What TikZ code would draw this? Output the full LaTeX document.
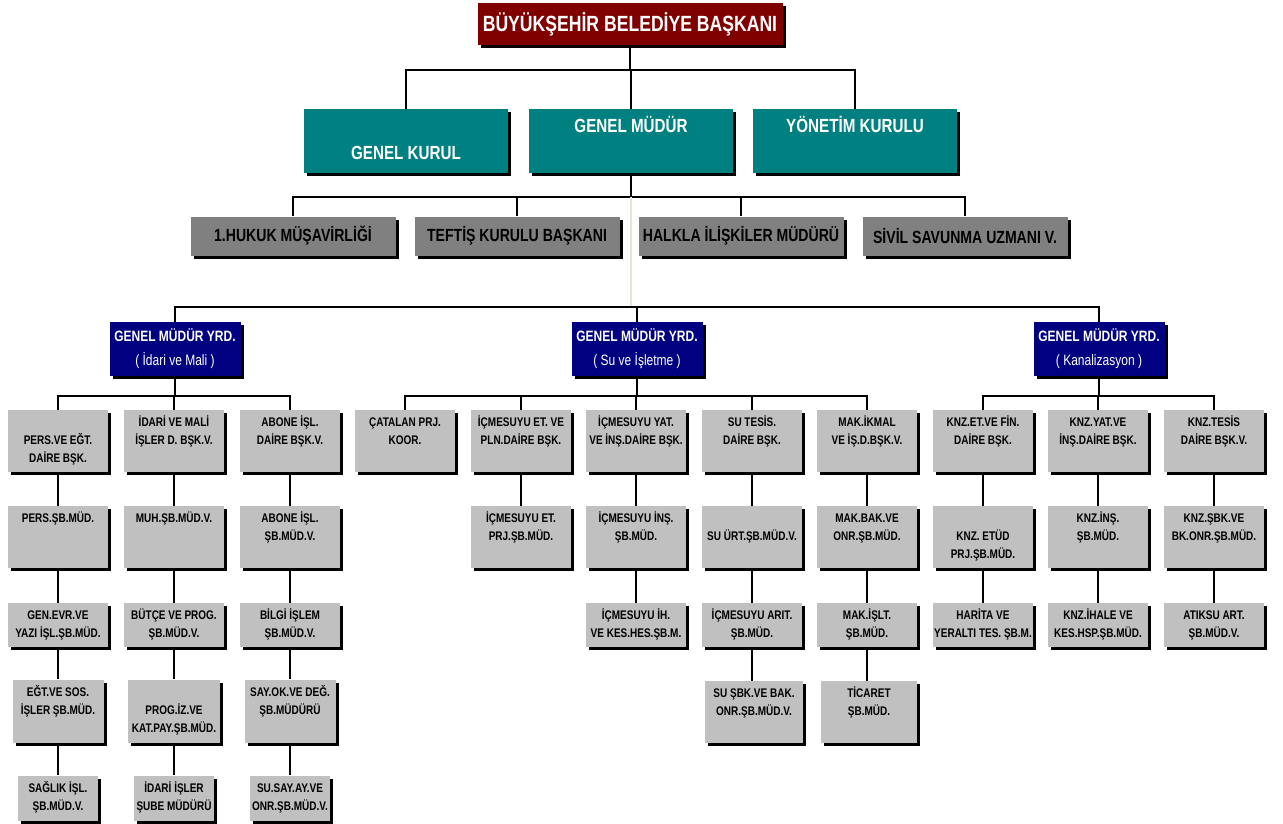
\documentclass[tikz,border=0pt]{standalone}
\usepackage{fontspec}
\setmainfont{Liberation Sans}[FakeStretch=0.8]
\usetikzlibrary{shadows,backgrounds}

\definecolor{baskan}{HTML}{800000}
\definecolor{kurul}{HTML}{008080}
\definecolor{yrd}{HTML}{000080}
\definecolor{koyugri}{HTML}{808080}
\definecolor{acikgri}{HTML}{C0C0C0}
\definecolor{ince}{HTML}{EAE4D6}

% satirlar ayni araliklarla
\newcommand{\satirlar}[1]{\begin{tabular}{@{}c@{}}#1\end{tabular}}

\tikzset{
  kutu/.style={rectangle, inner sep=0pt,
    drop shadow={shadow xshift=3pt, shadow yshift=-3pt, fill=black, opacity=1}},
  baskanbox/.style={kutu, fill=baskan, text=white, font=\fontsize{22}{26}\selectfont\bfseries,
    minimum width=305pt, minimum height=42pt},
  kurulbox/.style={kutu, fill=kurul, text=white, font=\fontsize{19}{27}\selectfont\bfseries,
    minimum width=204pt, minimum height=64pt},
  birimbox/.style={kutu, fill=koyugri, text=black, font=\fontsize{17.6}{20}\selectfont\bfseries,
    minimum width=205pt, minimum height=39pt},
  yrdbox/.style={kutu, fill=yrd, text=white, font=\fontsize{15}{24}\selectfont\bfseries,
    minimum width=131pt, minimum height=54pt},
  sube/.style={kutu, fill=acikgri, text=black, font=\fontsize{12.5}{18}\selectfont\bfseries,
    minimum width=100pt},
  hat/.style={draw=black, line width=2.2pt},
}

\begin{document}
\begin{tikzpicture}[x=1pt, y=-1pt]
    \useasboundingbox (0,0) rectangle (1283,824);

    % Baskan ve kurullar
    \node[baskanbox] (baskan) at (630,24) {BÜYÜKŞEHİR BELEDİYE BAŞKANI};
    \node[kurulbox] (genelkurul) at (406,141) {\satirlar{\\GENEL KURUL}};
    \node[kurulbox] (genelmudur) at (631,141) {\satirlar{GENEL MÜDÜR\\~}};
    \node[kurulbox] (yonetim) at (855,141) {\satirlar{YÖNETİM KURULU\\~}};

    % Genel mudure bagli birimler
    \node[birimbox] (hukuk) at (293,236) {1.HUKUK MÜŞAVİRLİĞİ};
    \node[birimbox] (teftis) at (517,236) {TEFTİŞ KURULU BAŞKANI};
    \node[birimbox] (halkla) at (741,236) {HALKLA İLİŞKİLER MÜDÜRÜ};
    \node[birimbox] (sivil) at (965,236) {SİVİL SAVUNMA UZMANI V.};

    % Genel mudur yardimcilari
    \node[yrdbox] (yrdidari) at (175,349) {\satirlar{GENEL MÜDÜR YRD.\\\mdseries ( İdari ve Mali )}};
    \node[yrdbox] (yrdsu) at (637,349) {\satirlar{GENEL MÜDÜR YRD.\\\mdseries ( Su ve İşletme )}};
    \node[yrdbox] (yrdknz) at (1099,349) {\satirlar{GENEL MÜDÜR YRD.\\\mdseries ( Kanalizasyon )}};

    % Idari ve Mali
    \node[sube, minimum height=62pt] (persdb) at (58,441) {\satirlar{\\PERS.VE EĞT.\\DAİRE BŞK.}};
    \node[sube, minimum height=62pt] (perssb) at (58,537) {\satirlar{PERS.ŞB.MÜD.\\~\\~}};
    \node[sube, minimum height=44pt] (genevr) at (58,625) {\satirlar{GEN.EVR.VE\\YAZI İŞL.ŞB.MÜD.}};
    \node[sube, minimum height=63pt, minimum width=91pt] (egtsos) at (58,711) {\satirlar{EĞT.VE SOS.\\İŞLER ŞB.MÜD.\\~}};
    \node[sube, minimum height=45pt, minimum width=80pt] (saglik) at (58,798) {\satirlar{SAĞLIK İŞL.\\ŞB.MÜD.V.}};

    \node[sube, minimum height=62pt] (idarimali) at (174,441) {\satirlar{İDARİ VE MALİ\\İŞLER D. BŞK.V.\\~}};
    \node[sube, minimum height=62pt] (muhsb) at (174,537) {\satirlar{MUH.ŞB.MÜD.V.\\~\\~}};
    \node[sube, minimum height=44pt] (butce) at (174,625) {\satirlar{BÜTÇE VE PROG.\\ŞB.MÜD.V.}};
    \node[sube, minimum height=63pt, minimum width=92pt] (progiz) at (174,711) {\satirlar{\\PROG.İZ.VE\\KAT.PAY.ŞB.MÜD.}};
    \node[sube, minimum height=45pt, minimum width=80pt] (idariisler) at (174,798) {\satirlar{İDARİ İŞLER\\ŞUBE MÜDÜRÜ}};

    \node[sube, minimum height=62pt] (abonedb) at (290,441) {\satirlar{ABONE İŞL.\\DAİRE BŞK.V.\\~}};
    \node[sube, minimum height=62pt] (abonesb) at (290,537) {\satirlar{ABONE İŞL.\\ŞB.MÜD.V.\\~}};
    \node[sube, minimum height=44pt] (bilgi) at (290,625) {\satirlar{BİLGİ İŞLEM\\ŞB.MÜD.V.}};
    \node[sube, minimum height=63pt, minimum width=91pt] (sayok) at (290,711) {\satirlar{SAY.OK.VE DEĞ.\\ŞB.MÜDÜRÜ\\~}};
    \node[sube, minimum height=45pt, minimum width=80pt] (susay) at (290,798) {\satirlar{SU.SAY.AY.VE\\ONR.ŞB.MÜD.V.}};

    % Su ve Isletme
    \node[sube, minimum height=62pt] (catalan) at (405,441) {\satirlar{ÇATALAN PRJ.\\KOOR.\\~}};

    \node[sube, minimum height=62pt] (icmet) at (521,441) {\satirlar{İÇMESUYU ET. VE\\PLN.DAİRE BŞK.\\~}};
    \node[sube, minimum height=62pt] (icmetprj) at (521,537) {\satirlar{İÇMESUYU ET.\\PRJ.ŞB.MÜD.\\~}};

    \node[sube, minimum height=62pt] (icmyat) at (636,441) {\satirlar{İÇMESUYU YAT.\\VE İNŞ.DAİRE BŞK.\\~}};
    \node[sube, minimum height=62pt] (icmins) at (636,537) {\satirlar{İÇMESUYU İNŞ.\\ŞB.MÜD.\\~}};
    \node[sube, minimum height=44pt] (icmih) at (636,625) {\satirlar{İÇMESUYU İH.\\VE KES.HES.ŞB.M.}};

    \node[sube, minimum height=62pt] (sutesis) at (752,441) {\satirlar{SU TESİS.\\DAİRE BŞK.\\~}};
    \node[sube, minimum height=62pt] (suurt) at (752,537) {\satirlar{\\SU ÜRT.ŞB.MÜD.V.\\~}};
    \node[sube, minimum height=44pt] (icmarit) at (752,625) {\satirlar{İÇMESUYU ARIT.\\ŞB.MÜD.}};
    \node[sube, minimum height=62pt, minimum width=98pt] (susbk) at (754,712) {\satirlar{SU ŞBK.VE BAK.\\ONR.ŞB.MÜD.V.\\~}};

    \node[sube, minimum height=62pt] (makikmal) at (867,441) {\satirlar{MAK.İKMAL\\VE İŞ.D.BŞK.V.\\~}};
    \node[sube, minimum height=62pt] (makbak) at (867,537) {\satirlar{MAK.BAK.VE\\ONR.ŞB.MÜD.\\~}};
    \node[sube, minimum height=44pt] (makislt) at (867,625) {\satirlar{MAK.İŞLT.\\ŞB.MÜD.}};
    \node[sube, minimum height=62pt, minimum width=96pt] (ticaret) at (869,712) {\satirlar{TİCARET\\ŞB.MÜD.\\~}};

    % Kanalizasyon
    \node[sube, minimum height=62pt] (knzet) at (983,441) {\satirlar{KNZ.ET.VE FİN.\\DAİRE BŞK.\\~}};
    \node[sube, minimum height=62pt] (knzetud) at (983,537) {\satirlar{\\KNZ. ETÜD\\PRJ.ŞB.MÜD.}};
    \node[sube, minimum height=44pt] (harita) at (983,625) {\satirlar{HARİTA VE\\YERALTI TES. ŞB.M.}};

    \node[sube, minimum height=62pt] (knzyat) at (1098,441) {\satirlar{KNZ.YAT.VE\\İNŞ.DAİRE BŞK.\\~}};
    \node[sube, minimum height=62pt] (knzins) at (1098,537) {\satirlar{KNZ.İNŞ.\\ŞB.MÜD.\\~}};
    \node[sube, minimum height=44pt] (knzihale) at (1098,625) {\satirlar{KNZ.İHALE VE\\KES.HSP.ŞB.MÜD.}};

    \node[sube, minimum height=62pt] (knztesis) at (1214,441) {\satirlar{KNZ.TESİS\\DAİRE BŞK.V.\\~}};
    \node[sube, minimum height=62pt] (knzsbk) at (1214,537) {\satirlar{KNZ.ŞBK.VE\\BK.ONR.ŞB.MÜD.\\~}};
    \node[sube, minimum height=44pt] (atiksu) at (1214,625) {\satirlar{ATIKSU ART.\\ŞB.MÜD.V.}};

    % Baglanti cizgileri
    \begin{scope}[on background layer]
        \fill[white] (0,0) rectangle (1283,824);
        \draw[hat] (baskan.south) -- ++(0,25) coordinate (ustbar);
        \foreach \alt in {genelkurul, genelmudur, yonetim}
            \draw[hat] (ustbar) -| (\alt.north);
        \draw[hat] (genelmudur.south) -- ++(0,24) coordinate (mudurbar);
        \foreach \alt in {hukuk, teftis, halkla, sivil}
            \draw[hat] (mudurbar) -| (\alt.north);
        \draw[ince, line width=1.6pt] (mudurbar) -- ++(0,110) coordinate (yrdbar);
        \foreach \alt in {yrdidari, yrdsu, yrdknz}
            \draw[hat] (yrdbar) -| (\alt.north);
        \foreach \ust/\alt in {yrdidari/persdb, yrdidari/idarimali, yrdidari/abonedb,
                               yrdsu/catalan, yrdsu/icmet, yrdsu/icmyat, yrdsu/sutesis, yrdsu/makikmal,
                               yrdknz/knzet, yrdknz/knzyat, yrdknz/knztesis}
            \draw[hat] (\ust.south) -- ++(0,20) -| (\alt.north);
        \foreach \ust/\alt in {persdb/perssb, perssb/genevr, genevr/egtsos, egtsos/saglik,
                               idarimali/muhsb, muhsb/butce, butce/progiz, progiz/idariisler,
                               abonedb/abonesb, abonesb/bilgi, bilgi/sayok, sayok/susay,
                               icmet/icmetprj, icmyat/icmins, icmins/icmih,
                               sutesis/suurt, suurt/icmarit, icmarit/susbk,
                               makikmal/makbak, makbak/makislt, makislt/ticaret,
                               knzet/knzetud, knzetud/harita, knzyat/knzins, knzins/knzihale,
                               knztesis/knzsbk, knzsbk/atiksu}
            \draw[hat] (\ust.south) -- (\ust.south |- \alt.north);
    \end{scope}
\end{tikzpicture}
\end{document}
